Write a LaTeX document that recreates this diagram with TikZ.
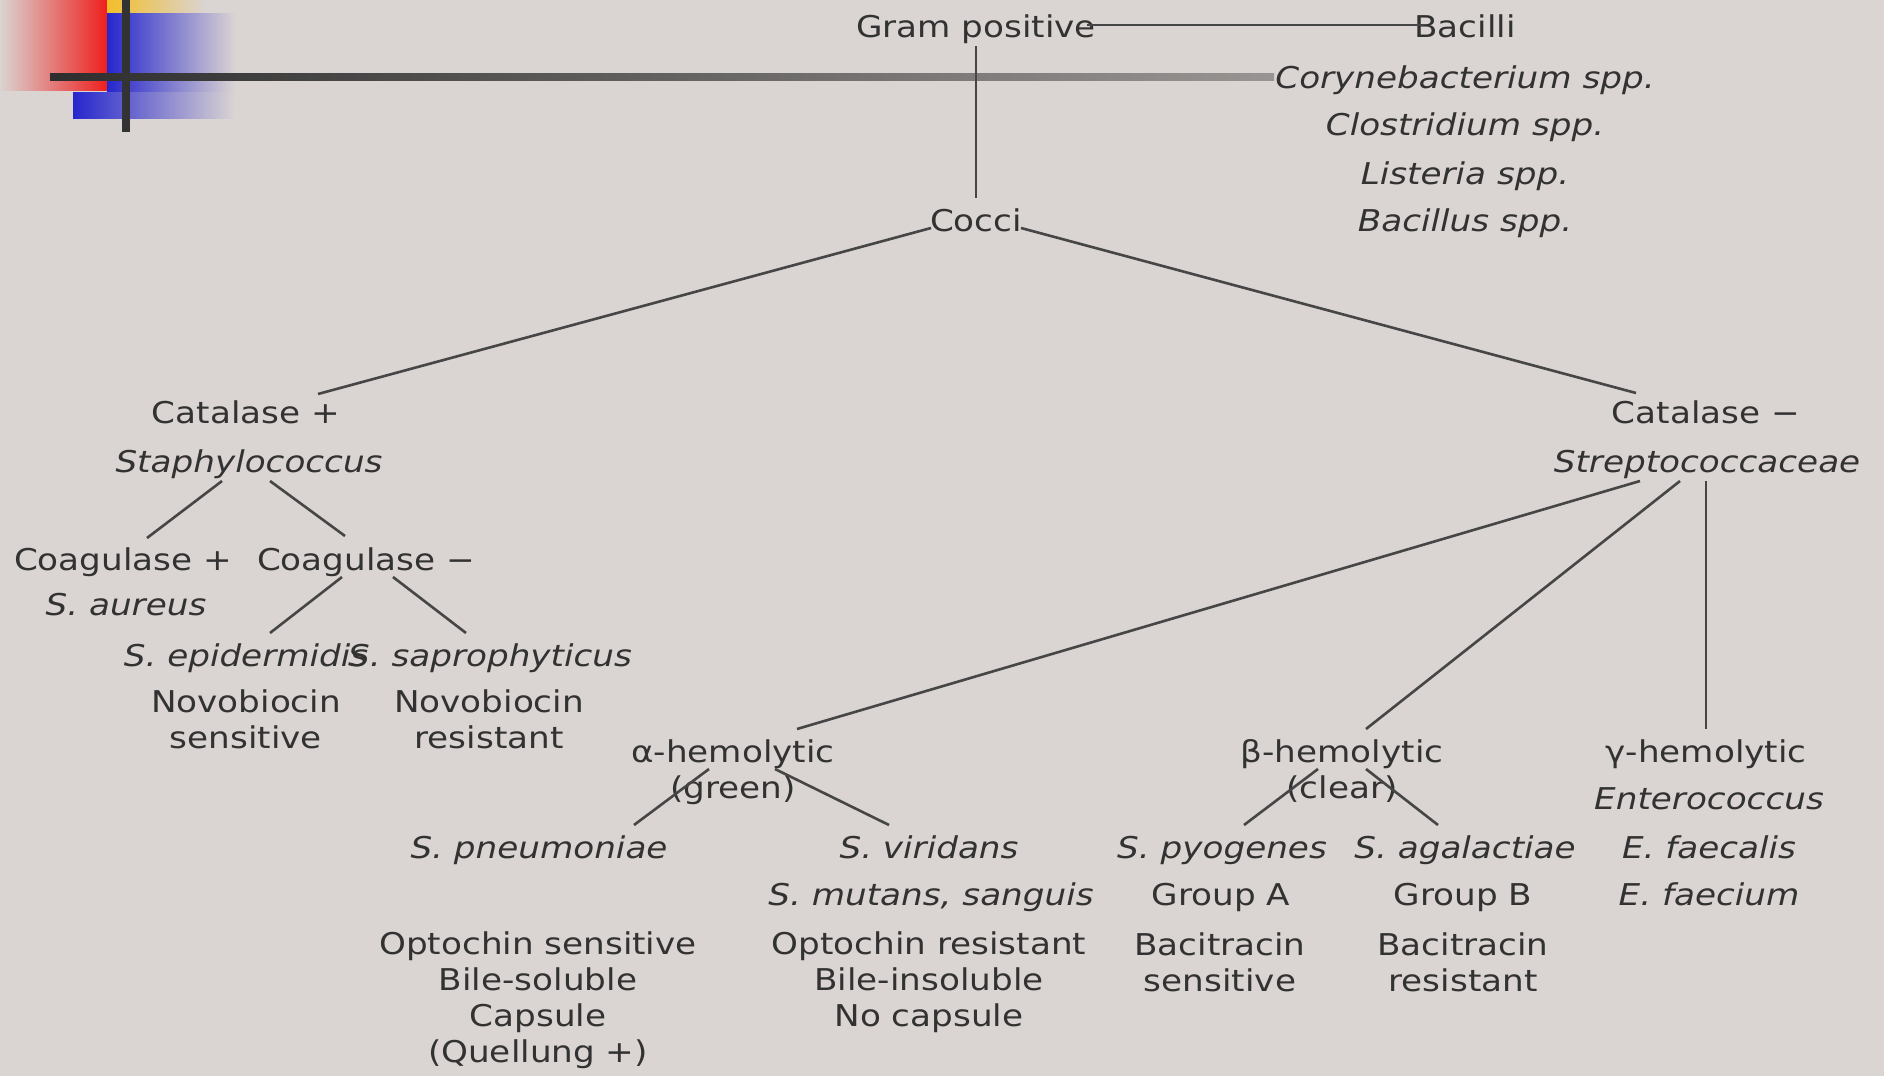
\documentclass[tikz,border=0pt]{standalone}
\usepackage{fontspec}
\setmainfont[FakeStretch=1.14]{DejaVu Sans}
\usetikzlibrary{calc}
\definecolor{bg}{RGB}{218,212,210}
\definecolor{ink}{RGB}{50,50,50}
\definecolor{edge}{RGB}{70,70,70}
\definecolor{dred}{RGB}{238,32,30}
\definecolor{dblue}{RGB}{38,38,205}
\definecolor{dyel}{RGB}{242,190,40}
\begin{document}
\begin{tikzpicture}[x=1pt,y=-1pt,
  lbl/.style={inner sep=0pt, text=ink, font=\fontsize{30}{36}\selectfont, text height=23pt, text depth=7pt, anchor=base},
  ilbl/.style={lbl, font=\fontsize{30}{36}\selectfont\itshape},
  mlbl/.style={inner sep=0pt, text=ink, font=\fontsize{30}{36}\selectfont, align=center, anchor=north},
  link/.style={draw=edge, line width=2.6pt}]
% background and bounding box
\fill[bg] (0,0) rectangle (1884,1076);
\useasboundingbox (0,0) rectangle (1884,1076);
% top-left decoration
\shade[left color=bg, right color=dred] (0,0) rectangle (107,90);
\shade[left color=dyel, right color=bg] (107,0) rectangle (205,13);
\shade[left color=dblue, middle color=dblue!80!bg, right color=bg] (107,13) rectangle (235,92);
\shade[left color=dblue, middle color=dblue!80!bg, right color=bg] (73,92) rectangle (235,118);
\fill[black!80] (122,0) rectangle (130,132);
\shade[left color=black!82, right color=black!30!bg] (50,73) rectangle (1274,80);
% nodes
\node[lbl] (gp) at (976,37) {Gram positive};
\node[lbl] (bacilli) at (1465,37) {Bacilli};
\node[ilbl] (coryne) at (1465,88) {Corynebacterium spp.};
\node[ilbl] (clostr) at (1465,135) {Clostridium spp.};
\node[ilbl] (lister) at (1465,184) {Listeria spp.};
\node[ilbl] (bacill) at (1465,231) {Bacillus spp.};
\node[lbl] (cocci) at (976,231) {Cocci};
\node[lbl] (catp) at (246,423) {Catalase +};
\node[ilbl] (staph) at (249,472) {Staphylococcus};
\node[lbl] (catm) at (1706,423) {Catalase −};
\node[ilbl] (strep) at (1707,472) {Streptococcaceae};
\node[lbl] (coagp) at (123,570) {Coagulase +};
\node[ilbl] (aureus) at (126,615) {S. aureus};
\node[lbl] (coagm) at (366,570) {Coagulase −};
\node[ilbl] (epid) at (246,666) {S. epidermidis};
\node[ilbl] (sapro) at (490,666) {S. saprophyticus};
\node[mlbl] (novos) at (246,689) {Novobiocin\\sensitive};
\node[mlbl] (novor) at (489,689) {Novobiocin\\resistant};
\node[mlbl] (alpha) at (733,739) {α-hemolytic\\(green)};
\node[mlbl] (beta) at (1342,739) {β-hemolytic\\(clear)};
\node[lbl] (gamma) at (1706,762) {γ-hemolytic};
\node[ilbl] (entero) at (1709,809) {Enterococcus};
\node[ilbl] (pneumo) at (539,858) {S. pneumoniae};
\node[ilbl] (viridans) at (929,858) {S. viridans};
\node[ilbl] (mutans) at (931,905) {S. mutans, sanguis};
\node[mlbl] (optos) at (538,931) {Optochin sensitive\\Bile-soluble\\Capsule\\(Quellung +)};
\node[mlbl] (optor) at (929,931) {Optochin resistant\\Bile-insoluble\\No capsule};
\node[ilbl] (pyo) at (1222,858) {S. pyogenes};
\node[ilbl] (agal) at (1465,858) {S. agalactiae};
\node[lbl] (grpa) at (1221,905) {Group A};
\node[lbl] (grpb) at (1463,905) {Group B};
\node[mlbl] (bacs) at (1220,932) {Bacitracin\\sensitive};
\node[mlbl] (bacr) at (1463,932) {Bacitracin\\resistant};
\node[ilbl] (faecalis) at (1709,858) {E. faecalis};
\node[ilbl] (faecium) at (1709,905) {E. faecium};
% connectors
\draw[link] ($(gp.base)+(111,-12)$) -- ($(bacilli.base)+(-41,-12)$);
\draw[link] ($(gp.base)+(0,9)$) -- ($(cocci.base)+(0,-33)$);
\draw[link] ($(cocci.base)+(-45,-3)$) -- ($(catp.base)+(72,-29)$);
\draw[link] ($(cocci.base)+(45,-3)$) -- ($(catm.base)+(-70,-30)$);
\draw[link] ($(staph.base)+(-27,9)$) -- ($(coagp.base)+(24,-32)$);
\draw[link] ($(staph.base)+(21,9)$) -- ($(coagm.base)+(-21,-34)$);
\draw[link] ($(coagm.base)+(-24,7)$) -- ($(epid.base)+(24,-33)$);
\draw[link] ($(coagm.base)+(27,7)$) -- ($(sapro.base)+(-24,-33)$);
\draw[link] ($(strep.base)+(-67,9)$) -- ($(alpha.north)+(64,-10)$);
\draw[link] ($(strep.base)+(-27,9)$) -- ($(beta.north)+(24,-10)$);
\draw[link] ($(strep.base)+(-1,9)$) -- ($(gamma.base)+(0,-33)$);
\draw[link] ($(alpha.north)+(-24,30)$) -- ($(pneumo.base)+(95,-33)$);
\draw[link] ($(alpha.north)+(42,30)$) -- ($(viridans.base)+(-40,-33)$);
\draw[link] ($(beta.north)+(-24,30)$) -- ($(pyo.base)+(22,-33)$);
\draw[link] ($(beta.north)+(24,30)$) -- ($(agal.base)+(-27,-33)$);
\end{tikzpicture}
\end{document}
